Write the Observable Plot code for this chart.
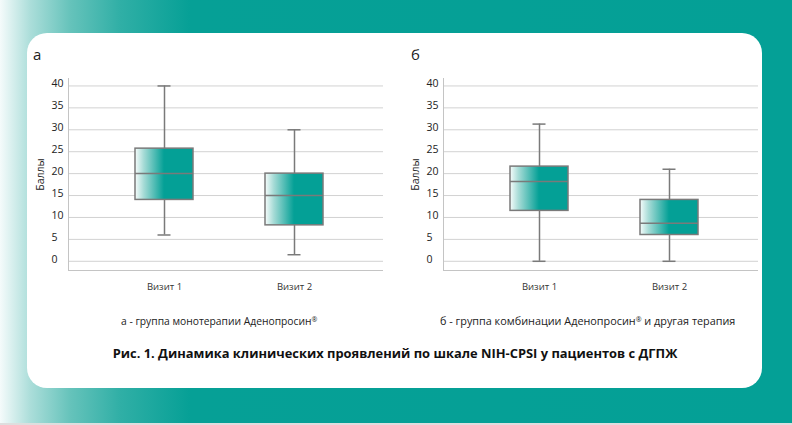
<!DOCTYPE html>
<html>
<head>
<meta charset="utf-8">
<script src="https://cdn.jsdelivr.net/npm/d3@7"></script>
<script src="https://cdn.jsdelivr.net/npm/@observablehq/plot@0.6"></script>
<style>
  html, body { margin: 0; padding: 0; }
  body {
    width: 792px; height: 425px; position: relative; overflow: hidden;
    font-family: "Open Sans", sans-serif; color: #222;
    background: linear-gradient(to right, #f5fbfb 0px, #acdeda 30px, #66c3bb 70px, #30afa6 120px, #06a096 190px, #04a096 792px);
  }
  #strip { position: absolute; left: 0; top: 423px; width: 792px; height: 2px; background: #dedede; }
  #card { position: absolute; left: 27px; top: 33px; width: 735px; height: 355px; background: #fff; border-radius: 20px; }
  .panel { position: absolute; top: 70px; }
  .tag { position: absolute; top: 47px; font-size: 15px; line-height: 1; color: #222; }
  .sub { position: absolute; top: 316px; font-size: 10.5px; line-height: 1; color: #222; white-space: nowrap; }
  .reg { font-size: 7px; position: relative; top: -3px; }
  #title { position: absolute; top: 347px; left: 0; width: 790px; text-align: center; font-weight: 700; font-size: 12.9px; line-height: 1; color: #111; white-space: nowrap; }
</style>
</head>
<body>
<div id="strip"></div>
<div id="card"></div>
<div class="tag" style="left:33px">а</div>
<div class="tag" style="left:411px">б</div>
<div class="panel" id="left" style="left:30px"></div>
<div class="panel" id="right" style="left:405px"></div>
<div class="sub" style="left:121px;font-size:10.3px">а - группа монотерапии Аденопросин<span class="reg">®</span></div>
<div class="sub" style="left:440px;font-size:10.85px">б - группа комбинации Аденопросин<span class="reg">®</span> и другая терапия</div>
<div id="title">Рис. 1. Динамика клинических проявлений по шкале NIH-CPSI у пациентов с ДГПЖ</div>

<script>
// Visits on the x axis
const visits = ["Визит 1", "Визит 2"];
// Score ticks (Баллы)
const yTicks = [0, 5, 10, 15, 20, 25, 30, 35, 40];

// а — Adenoprosin monotherapy: whisker ends, quartiles, median
const monoLow  = [6, 1.5];
const monoQ1   = [14, 8.2];
const monoMed  = [20, 15];
const monoQ3   = [25.7, 20];
const monoHigh = [40, 30];

// б — Adenoprosin combined with other therapy
const comboLow  = [0, 0];
const comboQ1   = [11.5, 6];
const comboMed  = [18.2, 8.7];
const comboQ3   = [21.6, 14];
const comboHigh = [31.3, 21];

const teal = "#04a096";
const boxStroke = "#7a7a7a";

function rowsOf(low, q1, med, q3, high) {
  return visits.map((visit, i) => ({visit, low: low[i], q1: q1[i], med: med[i], q3: q3[i], high: high[i]}));
}

function boxChart(rows, gradId) {
  // horizontal white-to-teal fill used by the boxes
  const gradient = () => {
    const defs = d3.create("svg:defs");
    const g = defs.append("linearGradient").attr("id", gradId)
      .attr("x1", "0").attr("x2", "1").attr("y1", "0").attr("y2", "0");
    g.append("stop").attr("offset", "0%").attr("stop-color", "#f6fcfb");
    g.append("stop").attr("offset", "15%").attr("stop-color", "#a6dbd6");
    g.append("stop").attr("offset", "50%").attr("stop-color", teal);
    g.append("stop").attr("offset", "100%").attr("stop-color", teal);
    return defs.node();
  };
  return Plot.plot({
    width: 360,
    height: 230,
    marginLeft: 38,
    marginRight: 7,
    marginTop: 8,
    marginBottom: 30,
    style: {fontFamily: "Open Sans", fontSize: "10.5px", color: "#222", background: "transparent", overflow: "visible"},
    x: {type: "band", domain: visits, paddingInner: 0.557, paddingOuter: 0.485, align: 0.525, label: null},
    y: {domain: [-2.1, 41.7], label: "Баллы", labelArrow: "none"},
    marks: [
      gradient,
      Plot.ruleY(yTicks, {stroke: "#d2d2d2", strokeWidth: 1}),
      Plot.ruleY([-2.1], {stroke: "#c4c4c4", strokeWidth: 1}),
      Plot.frame({anchor: "left", stroke: "#c4c4c4", strokeWidth: 1}),
      Plot.ruleX(rows, {x: "visit", y1: "low", y2: "q1", stroke: boxStroke, strokeWidth: 1.5}),
      Plot.ruleX(rows, {x: "visit", y1: "q3", y2: "high", stroke: boxStroke, strokeWidth: 1.5}),
      Plot.tickY(rows, {x: "visit", y: "low", stroke: boxStroke, strokeWidth: 1.5, inset: 22.5}),
      Plot.tickY(rows, {x: "visit", y: "high", stroke: boxStroke, strokeWidth: 1.5, inset: 22.5}),
      Plot.barY(rows, {x: "visit", y1: "q1", y2: "q3", fill: `url(#${gradId})`, stroke: boxStroke, strokeWidth: 1.5}),
      Plot.tickY(rows, {x: "visit", y: "med", stroke: boxStroke, strokeWidth: 1.5}),
      Plot.axisY({ticks: yTicks, tickSize: 0, tickPadding: 17, textAnchor: "start", dy: -2, fill: "#222",
                  label: "Баллы", labelArrow: "none", labelAnchor: "center", labelOffset: 32}),
      Plot.axisX({tickSize: 0, tickPadding: 13, fontSize: 9.5, fill: "#333", label: null})
    ]
  });
}

document.getElementById("left").append(boxChart(rowsOf(monoLow, monoQ1, monoMed, monoQ3, monoHigh), "gradMono"));
document.getElementById("right").append(boxChart(rowsOf(comboLow, comboQ1, comboMed, comboQ3, comboHigh), "gradCombo"));
</script>
</body>
</html>
